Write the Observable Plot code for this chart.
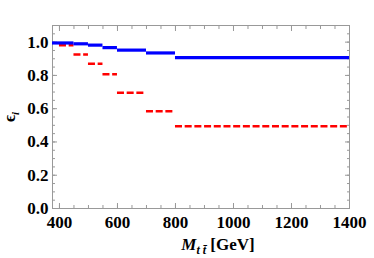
<!DOCTYPE html>
<html><head><meta charset="utf-8">
<script src="https://cdn.jsdelivr.net/npm/d3@7"></script>
<script src="https://cdn.jsdelivr.net/npm/@observablehq/plot@0.6"></script>
<style>body{margin:0;background:#fff}</style>
</head><body><div id="chart"></div>
<script>
// bin edges (GeV) and efficiencies
const blueEdges = [376, 450, 500, 550, 600, 700, 800, 1400];
const blueValues = [0.995, 0.99, 0.982, 0.967, 0.952, 0.935, 0.907];
const redEdges = [400, 450, 500, 550, 600, 700, 800, 1400];
const redValues = [0.982, 0.925, 0.87, 0.807, 0.696, 0.584, 0.494];
const xMajor = [400, 600, 800, 1000, 1200, 1400];
const yMajor = [0.0, 0.2, 0.4, 0.6, 0.8, 1.0];

const seg = (edges, vals) => vals.map((v, i) => ({x1: edges[i], x2: edges[i + 1], y: v}));
const blue = seg(blueEdges, blueValues);
const red = seg(redEdges, redValues);
const xMinor = d3.range(400, 1401, 50);
const yMinor = d3.range(0, 1.1001, 0.05).map(v => +v.toFixed(2));

const plot = Plot.plot({
  width: 374, height: 258,
  marginLeft: 52, marginRight: 25, marginTop: 25, marginBottom: 50,
  x: {domain: [376, 1400]},
  y: {domain: [0, 1.1]},
  marks: [
    Plot.frame({stroke: "#999"}),
    Plot.axisX({ticks: xMinor, tickSize: -3, tickFormat: () => "", stroke: "#999", label: null}),
    Plot.axisX({anchor: "top", ticks: xMinor, tickSize: -3, tickFormat: () => "", stroke: "#999", label: null}),
    Plot.axisX({ticks: xMajor, tickSize: -5, tickPadding: 12, stroke: "#999", label: null, tickFormat: d => String(d)}),
    Plot.axisX({anchor: "top", ticks: xMajor, tickSize: -5, tickFormat: () => "", stroke: "#999", label: null}),
    Plot.axisY({ticks: yMinor, tickSize: -3, tickFormat: () => "", stroke: "#999", label: null}),
    Plot.axisY({anchor: "right", ticks: yMinor, tickSize: -3, tickFormat: () => "", stroke: "#999", label: null}),
    Plot.axisY({ticks: yMajor, tickSize: -5, tickPadding: 9, stroke: "#999", label: null, tickFormat: d3.format(".1f")}),
    Plot.axisY({anchor: "right", ticks: yMajor, tickSize: -5, tickFormat: () => "", stroke: "#999", label: null}),
    Plot.ruleY(red, {x1: "x1", x2: "x2", y: "y", stroke: "#ff0000", strokeWidth: 2.5, strokeDasharray: "7,2.7"}),
    Plot.ruleY(blue, {x1: "x1", x2: "x2", y: "y", stroke: "#0000ff", strokeWidth: 3.2})
  ]
});
document.getElementById("chart").appendChild(plot);
plot.querySelectorAll("text").forEach(t => {
  t.style.fontFamily = "Liberation Serif";
  t.style.fontSize = "17px";
  t.style.fontWeight = "bold";
  t.style.fill = "#000";
});
const NS = "http://www.w3.org/2000/svg";
function mk(tag, attrs, parent, txt) {
  const e = document.createElementNS(NS, tag);
  for (const k in attrs) e.setAttribute(k, attrs[k]);
  if (txt != null) e.textContent = txt;
  parent.appendChild(e);
  return e;
}
const base = {"font-family": "Liberation Serif", "font-weight": "bold", "fill": "#000"};
// x label
const xl = mk("text", {...base, x: 218, y: 250, "text-anchor": "middle", "font-size": 17}, plot);
xl.style.fontFamily = "Liberation Serif";
mk("tspan", {"font-style": "italic"}, xl, "M");
mk("tspan", {"font-style": "italic", "font-size": 12, dy: 4}, xl, "t t\u0304");
mk("tspan", {dy: -4}, xl, " [GeV]");
// y label
const yl = mk("text", {...base, transform: "translate(15,117) rotate(-90)", "text-anchor": "middle", "font-size": 17}, plot);
yl.style.fontFamily = "Liberation Serif";
mk("tspan", {}, yl, "\u03f5");
mk("tspan", {"font-style": "italic", "font-size": 11, dy: 4}, yl, "i");
</script></body></html>
